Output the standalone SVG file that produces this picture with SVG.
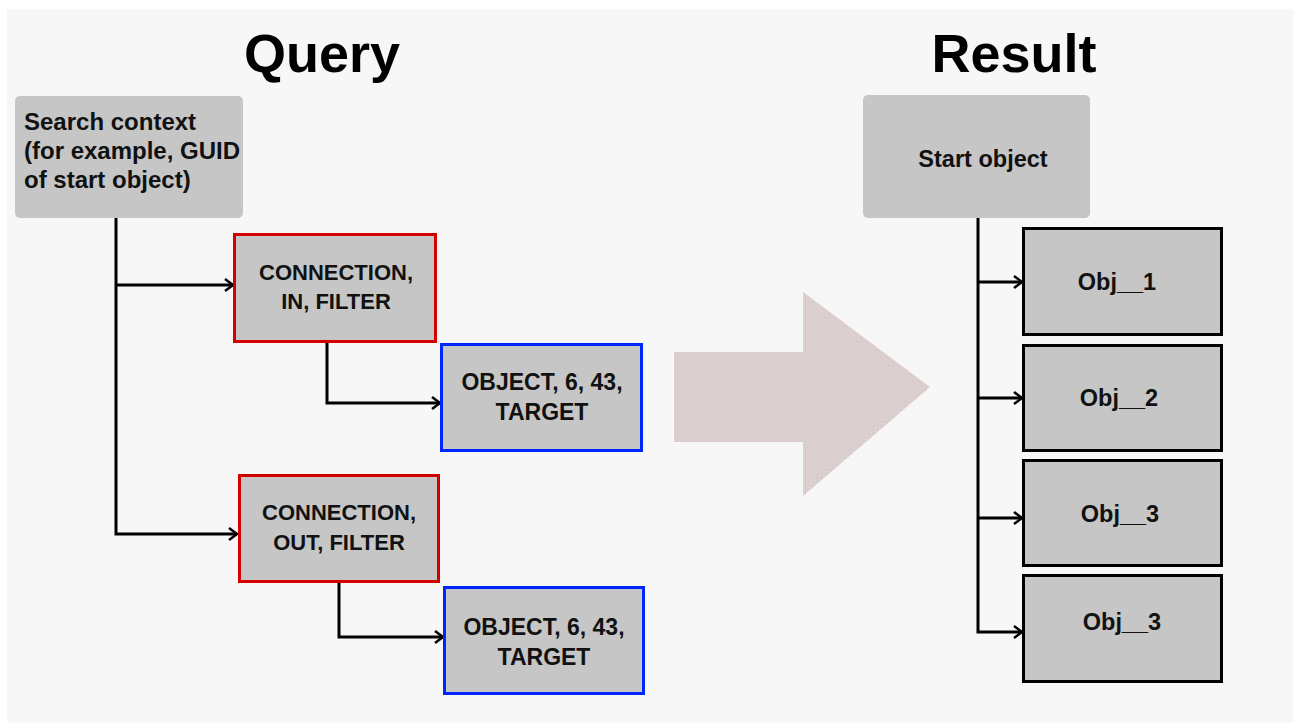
<svg xmlns="http://www.w3.org/2000/svg" width="1293" height="725" viewBox="0 0 1293 725">
  <defs>
    <style>
      .title { font-family: "Liberation Sans", Arial, sans-serif; font-weight: bold; font-size: 54px; fill: #000; text-anchor: middle; }
      .t { font-family: "Liberation Sans", Arial, sans-serif; font-weight: bold; font-size: 23px; fill: #111; }
      .c { text-anchor: middle; }
      .s { font-size: 24px; }
      .k { font-size: 22px; }
      .o { font-size: 23.5px; }
      .soft { fill: #c6c6c6; }
      .red { fill: #c6c6c6; stroke: #d40000; stroke-width: 3; }
      .blue { fill: #c6c6c6; stroke: #0026ff; stroke-width: 3; }
      .obj { fill: #c6c6c6; stroke: #000; stroke-width: 3; }
      .line { fill: none; stroke: #000; stroke-width: 3; }
    </style>
    <marker id="arr" markerUnits="userSpaceOnUse" markerWidth="12" markerHeight="14" refX="9" refY="7" orient="auto">
      <path d="M1,1 L9,7 L1,13" fill="none" stroke="#000" stroke-width="2.5"/>
    </marker>
    <pattern id="dots" width="4" height="4" patternUnits="userSpaceOnUse">
      <rect width="4" height="4" fill="#dccfd0"/>
      <rect x="1" y="1" width="1" height="1" fill="#c9c2c2"/>
    </pattern>
  </defs>

  <rect x="7" y="9" width="1286" height="714" fill="#f7f7f7"/>

  <text class="title" x="322" y="72">Query</text>
  <text class="title" x="1014" y="72">Result</text>

  <g id="bigArrow">
    <polygon points="674,352 803,352 803,292 930,387 803,496 803,442 674,442" fill="url(#dots)"/>
  </g>

  <g id="connectors">
    <path class="line" d="M116,218 V534 H237" marker-end="url(#arr)"/>
    <path class="line" d="M116,285 H233" marker-end="url(#arr)"/>
    <path class="line" d="M327,343 V403 H440" marker-end="url(#arr)"/>
    <path class="line" d="M339,583 V637 H443" marker-end="url(#arr)"/>
    <path class="line" d="M978,218 V632 H1022" marker-end="url(#arr)"/>
    <path class="line" d="M978,282 H1022" marker-end="url(#arr)"/>
    <path class="line" d="M978,398 H1022" marker-end="url(#arr)"/>
    <path class="line" d="M978,518 H1022" marker-end="url(#arr)"/>
  </g>

  <g id="searchContext">
    <rect class="soft" x="15" y="96" width="228" height="122" rx="5"/>
    <text class="t s" x="24" y="130">Search context</text>
    <text class="t s" x="24" y="159">(for example, GUID</text>
    <text class="t s" x="24" y="188">of start object)</text>
  </g>

  <g id="connIn">
    <rect class="red" x="234.5" y="234.5" width="201" height="107"/>
    <text class="t c k" x="336" y="280">CONNECTION,</text>
    <text class="t c k" x="336" y="309">IN, FILTER</text>
  </g>

  <g id="objIn">
    <rect class="blue" x="441.5" y="344.5" width="200" height="106"/>
    <text class="t c" x="542" y="390">OBJECT, 6, 43,</text>
    <text class="t c" x="542" y="420">TARGET</text>
  </g>

  <g id="connOut">
    <rect class="red" x="239.5" y="475.5" width="199" height="106"/>
    <text class="t c k" x="339" y="520">CONNECTION,</text>
    <text class="t c k" x="339" y="550">OUT, FILTER</text>
  </g>

  <g id="objOut">
    <rect class="blue" x="444.5" y="587.5" width="199" height="106"/>
    <text class="t c" x="544" y="635">OBJECT, 6, 43,</text>
    <text class="t c" x="544" y="665">TARGET</text>
  </g>

  <g id="startObject">
    <rect class="soft" x="863" y="95" width="227" height="123" rx="5"/>
    <text class="t c o" x="983" y="167">Start object</text>
  </g>

  <g id="obj1">
    <rect class="obj" x="1023.5" y="228.5" width="198" height="106"/>
    <text class="t c o" x="1117" y="290">Obj__1</text>
  </g>
  <g id="obj2">
    <rect class="obj" x="1023.5" y="345.5" width="198" height="105"/>
    <text class="t c o" x="1119" y="406">Obj__2</text>
  </g>
  <g id="obj3">
    <rect class="obj" x="1023.5" y="460.5" width="198" height="105"/>
    <text class="t c o" x="1120" y="522">Obj__3</text>
  </g>
  <g id="obj4">
    <rect class="obj" x="1023.5" y="575.5" width="198" height="106"/>
    <text class="t c o" x="1122" y="630">Obj__3</text>
  </g>
</svg>
